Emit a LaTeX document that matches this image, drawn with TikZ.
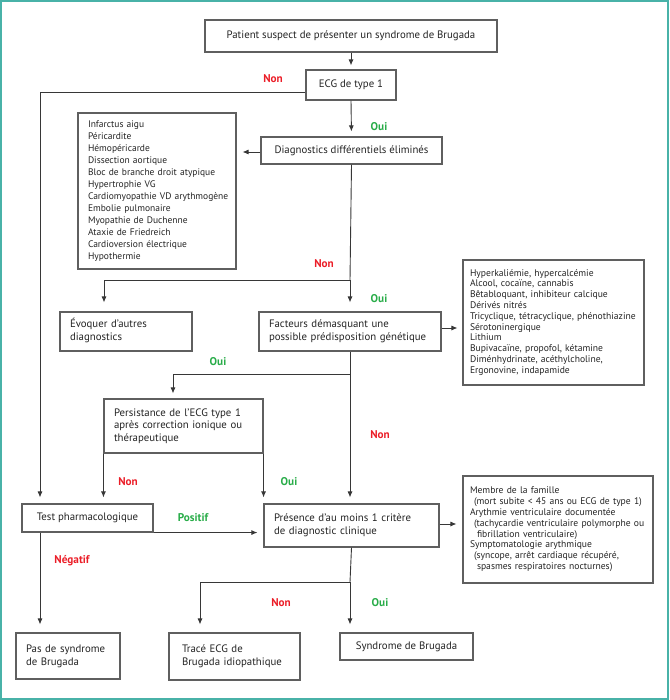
\documentclass[tikz,border=0pt]{standalone}
\usepackage{fontspec}
\setmainfont{PT Sans}
\usetikzlibrary{arrows.meta}
\definecolor{frame}{RGB}{72,178,168}
\definecolor{boxgray}{RGB}{95,95,95}
\definecolor{linegray}{RGB}{55,55,55}
\definecolor{txt}{RGB}{35,35,35}
\definecolor{nonred}{RGB}{235,30,40}
\definecolor{ouigreen}{RGB}{40,172,72}
\newcommand{\mylines}[1]{\begin{tabular}{@{}l@{}}#1\end{tabular}}
\begin{document}
\begin{tikzpicture}[x=1pt,y=-1pt,
  box/.style={draw=boxgray, line width=1.1pt, inner sep=0pt, text=txt,
    font=\fontsize{10.8}{13}\selectfont, anchor=center},
  lbox/.style={box, align=left, inner ysep=0pt},
  listone/.style={box, align=left, font=\fontsize{9.5}{12}\selectfont},
  listtwo/.style={box, align=left, font=\fontsize{9.6}{10.8}\selectfont},
  conn/.style={draw=linegray, line width=0.9pt},
  arr/.style={conn, -{Latex[length=6pt,width=5pt]}, shorten >=5pt},
  nonlab/.style={text=nonred, font=\bfseries\fontsize{11.2}{12}\selectfont, inner sep=0pt},
  ouilab/.style={text=ouigreen, font=\bfseries\fontsize{11.2}{12}\selectfont, inner sep=0pt}
]
\useasboundingbox (0,0) rectangle (669,700);
\draw[frame, line width=1.6pt] (0.8,0.8) rectangle (668.2,699.2);

% boxes
\node[box, minimum width=292pt, minimum height=32pt] (patient) at (351,36)
  {Patient suspect de présenter un syndrome de Brugada};
\node[box, minimum width=90pt, minimum height=30pt] (ecg) at (351,85) {ECG de type 1};
\node[box, minimum width=181pt, minimum height=27pt] (diag) at (351.5,150.5)
  {Diagnostics différentiels éliminés};
\node[listone, inner xsep=10pt, text width=138pt, minimum height=156pt] (listA) at (157,191)
  {\mylines{Infarctus aigu\\Péricardite\\Hémopéricarde\\Dissection aortique\\Bloc de branche droit atypique\\Hypertrophie VG\\Cardiomyopathie VD arythmogène\\Embolie pulmonaire\\Myopathie de Duchenne\\Ataxie de Friedreich\\Cardioversion électrique\\Hypothermie}};
\node[lbox, inner xsep=10pt, text width=112pt, minimum height=39pt] (evoq) at (126,331.5)
  {\mylines{Évoquer d’autres\\diagnostics}};
\node[lbox, inner xsep=10pt, text width=162pt, minimum height=39pt] (fact) at (350,331.5)
  {\mylines{Facteurs démasquant une\\possible prédisposition génétique}};
\node[listtwo, inner xsep=7pt, text width=167pt, minimum height=125pt] (listB) at (553.5,322.5)
  {\mylines{Hyperkaliémie, hypercalcémie\\Alcool, cocaïne, cannabis\\Bêtabloquant, inhibiteur calcique\\Dérivés nitrés\\Tricyclique, tétracyclique, phénothiazine\\Sérotoninergique\\Lithium\\Bupivacaïne, propofol, kétamine\\Diménhydrinate, acéthylcholine,\\Ergonovine, indapamide}};
\node[lbox, inner xsep=10pt, text width=139pt, minimum height=54pt, font=\fontsize{10.8}{12.5}\selectfont] (pers) at (183.5,426)
  {\mylines{Persistance de l’ECG type 1\\après correction ionique ou\\thérapeutique}};
\node[box, minimum width=131pt, minimum height=28pt] (test) at (87.5,518) {Test pharmacologique};
\node[lbox, inner xsep=10pt, text width=155pt, minimum height=43pt] (pres) at (351.5,525.5)
  {\mylines{Présence d’au moins 1 critère\\de diagnostic clinique}};
\node[listtwo, inner xsep=7pt, text width=176pt, minimum height=107pt] (listC) at (558,529.5)
  {\mylines{Membre de la famille\\\hspace*{4pt}(mort subite < 45 ans ou ECG de type 1)\\Arythmie ventriculaire documentée\\\hspace*{4pt}(tachycardie ventriculaire polymorphe ou\\\hspace*{7pt}fibrillation ventriculaire)\\Symptomatologie arythmique\\\hspace*{4pt}(syncope, arrêt cardiaque récupéré,\\\hspace*{7pt}spasmes respiratoires nocturnes)}};
\node[lbox, inner xsep=10pt, text width=84pt, minimum height=46pt] (pas) at (68,656)
  {\mylines{Pas de syndrome\\de Brugada}};
\node[lbox, inner xsep=13pt, text width=105pt, minimum height=47pt] (trace) at (234.5,656.5)
  {\mylines{Tracé ECG de\\Brugada idiopathique}};
\node[box, minimum width=133pt, minimum height=27pt] (synd) at (406.5,646.5) {Syndrome de Brugada};

% junction coordinates
\coordinate (jL) at (40,92);
\coordinate (j1) at (350,280);
\coordinate (j1l) at (104,280);
\coordinate (j2) at (350,374);
\coordinate (j2l) at (173,374);
\coordinate (j3) at (350,582);
\coordinate (j3l) at (200,582);

% connectors
\draw[arr, shorten >=4pt] (patient.south) -- (ecg.north);
\draw[arr, shorten >=6pt] ([yshift=-7pt]ecg.west) -- (jL) -- (jL |- test.north);
\draw[arr] (ecg.south) -- (diag.north);
\draw[arr, shorten >=6pt] ([yshift=-1.5pt]diag.west) -- ([yshift=-1.5pt]diag.west -| listA.east);
\draw[conn] (diag.south) -- (j1);
\draw[arr, shorten >=9pt] (j1) -- (j1l) -- (j1l |- evoq.north);
\draw[arr, shorten >=9pt] (j1) -- (j1 |- fact.north);
\draw[arr] ([yshift=3.5pt]fact.east) -- ([yshift=3.5pt]fact.east -| listB.west);
\draw[conn] (fact.south) -- (j2);
\draw[arr, shorten >=5pt] (j2) -- (j2l) -- (j2l |- pers.north);
\draw[arr, shorten >=6pt] (j2) -- (j2 |- pres.north);
\draw[arr, shorten >=6pt] (pers.south west) -- (pers.south west |- test.north);
\draw[arr, shorten >=6pt] (pers.south east) -- (pers.south east |- pres.north);
\draw[arr, shorten >=6pt] (test.south east) -- (test.south east -| pres.west);
\draw[arr, shorten >=8pt] (jL |- test.south) -- (jL |- pas.north);
\draw[arr, shorten >=6pt] ([yshift=1.5pt]pres.east) -- ([yshift=1.5pt]pres.east -| listC.west);
\draw[conn] (pres.south) -- (j3);
\draw[arr, shorten >=8pt] (j3) -- (j3l) -- (j3l |- trace.north);
\draw[arr, shorten >=8pt] (j3) -- (j3 |- synd.north);

% labels
\node[nonlab] (l1) at (273,79) {Non};
\node[ouilab] (l2) at (379,127) {Oui};
\node[nonlab] (l3) at (324,264) {Non};
\node[ouilab] (l4) at (379,299) {Oui};
\node[ouilab] (l5) at (218,362) {Oui};
\node[nonlab] (l6) at (380,435) {Non};
\node[nonlab] (l7) at (128,482) {Non};
\node[ouilab] (l8) at (289,482) {Oui};
\node[ouilab] (l9) at (193,518) {Positif};
\node[nonlab] (l10) at (72,561) {Négatif};
\node[nonlab] (l11) at (281,603) {Non};
\node[ouilab] (l12) at (380,603) {Oui};
\end{tikzpicture}
\end{document}
